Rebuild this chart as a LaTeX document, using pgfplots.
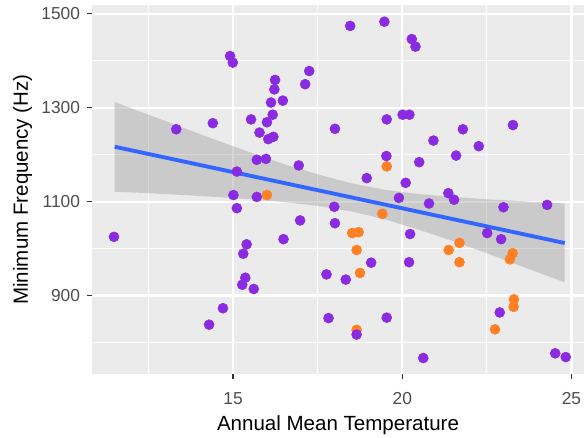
\documentclass[border=0pt]{standalone}
\usepackage{pgfplots}
\pgfplotsset{compat=1.18}
\usepackage{pgfplotstable}
\usepackage{fontspec}
\setmainfont{Liberation Sans}
\definecolor{panelbg}{HTML}{EBEBEB}
\definecolor{ptpurple}{HTML}{8A2BE2}
\definecolor{ptorange}{HTML}{FF7F24}
\definecolor{smblue}{HTML}{3366FF}
\definecolor{ribbon}{HTML}{999999}
\definecolor{tickgray}{HTML}{333333}
\definecolor{labgray}{HTML}{4D4D4D}

\pgfplotstableread{
x y
14.91 1410
14.99 1396
16.24 1359
16.22 1339
17.25 1378
17.13 1350
16.12 1311
16.47 1315
16.17 1285
16.00 1269
15.53 1275
14.40 1267
13.32 1254
15.78 1247
16.04 1233
16.19 1238
18.01 1255
15.70 1189
15.97 1191
16.94 1177
15.11 1164
15.01 1114
15.70 1110
18.46 1474
19.47 1483
20.28 1446
20.39 1430
19.54 1275
20.01 1285
20.21 1285
21.79 1254
23.27 1263
20.92 1230
22.26 1218
19.53 1197
20.50 1184
21.59 1198
18.95 1150
20.10 1140
15.11 1086
11.48 1025
16.98 1060
18.01 1054
17.99 1089
16.49 1020
15.40 1009
15.30 989
15.36 938
15.27 923
15.61 914
17.76 945
14.70 873
14.29 838
17.82 852
21.36 1118
21.53 1104
19.90 1108
20.79 1096
22.99 1088
24.28 1093
20.23 1031
22.51 1033
22.92 1020
19.08 970
20.20 971
18.33 934
22.88 864
19.54 853
18.65 817
20.62 767
24.52 777
24.83 769
}\purpletab

\pgfplotstableread{
x y
16.00 1114
19.54 1175
19.41 1074
18.52 1033
18.71 1035
21.69 1012
21.37 997
18.65 997
23.26 990
23.18 977
21.69 971
18.75 948
23.30 892
23.29 876
18.65 827
22.74 828
}\orangetab

\begin{document}
\begin{tikzpicture}
\begin{axis}[
  scale only axis,
  width=369pt, height=276.75pt,
  xmin=10.83, xmax=25.37,
  ymin=733, ymax=1518.6,
  axis background/.style={fill=panelbg},
  axis line style={draw=none},
  xtick={15,20,25}, ytick={900,1100,1300,1500},
  minor xtick={12.5,17.5,22.5}, minor ytick={800,1000,1200,1400},
  grid=both,
  major grid style={white, line width=1.6pt},
  minor grid style={white, line width=0.8pt},
  tick align=outside,
  xtick pos=bottom, ytick pos=left,
  major tick length=3.8pt, minor tick length=0pt,
  tick style={color=tickgray, line width=1.1pt},
  /pgf/number format/assume math mode=true,
  /pgf/number format/1000 sep={},
  ticklabel style={font=\fontsize{13}{15}\selectfont, color=labgray, inner sep=0pt},
  xticklabel style={anchor=north, yshift=-10pt},
  yticklabel style={anchor=east, xshift=-5pt},
]
\addplot[only marks, mark=*, mark size=3.75pt, color=ptorange, mark options={draw=none, fill=ptorange}] table[x=x, y=y] {\orangetab};
\addplot[only marks, mark=*, mark size=3.75pt, color=ptpurple, mark options={draw=none, fill=ptpurple}] table[x=x, y=y] {\purpletab};
\addplot[draw=none, fill=ribbon, fill opacity=0.4] coordinates {
(11.5,1312) (12.5,1285) (13.5,1258) (14.5,1231) (15.5,1205) (16.5,1180) (17.5,1158) (18.5,1139) (19.5,1125) (20.5,1116) (21.5,1110) (22.5,1105) (23.5,1101) (24.8,1096)
(24.8,928) (23.5,963) (22.5,990) (21.5,1016) (20.5,1040) (19.5,1062) (18.5,1079) (17.5,1091) (16.5,1099) (15.5,1105) (14.5,1110) (13.5,1114) (12.5,1118) (11.5,1121)
} -- cycle;
\addplot[smblue, line width=2.9pt] coordinates {(11.5,1216.8) (24.8,1011.8)};
\end{axis}
\node[rotate=90, anchor=base, font=\fontsize{15.4}{18}\selectfont] at ([xshift=-48pt]current axis.west) {Minimum Frequency (Hz)};
\node[anchor=base, font=\fontsize{15.4}{18}\selectfont] at ([yshift=-42pt]current axis.south) {Annual Mean Temperature};
\pgfresetboundingbox
\path[use as bounding box] ([xshift=-69pt,yshift=-48pt]current axis.south west) rectangle ([yshift=3.75pt]current axis.north east);
\end{tikzpicture}
\end{document}
